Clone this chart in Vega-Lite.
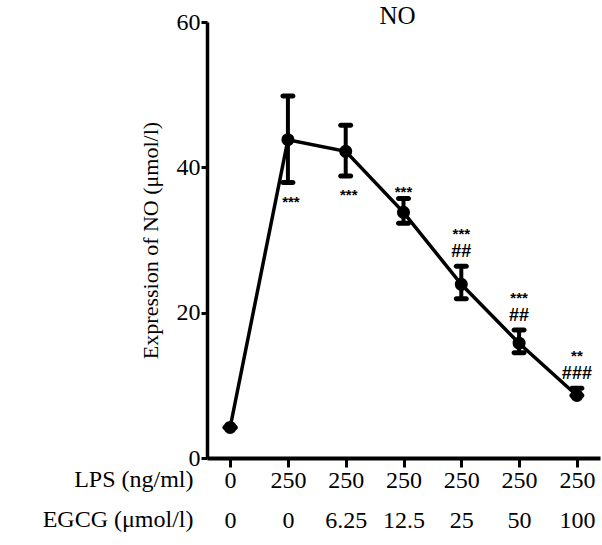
{
  "$schema": "https://vega.github.io/schema/vega-lite/v6.json",
  "autosize": "none",
  "width": 393,
  "height": 436,
  "padding": {"left": 207, "top": 22, "right": 2, "bottom": 87},
  "background": "white",
  "config": {
    "view": {"stroke": null},
    "font": "Liberation Serif"
  },
  "title": {
    "text": "NO",
    "font": "Liberation Serif",
    "fontSize": 25,
    "fontWeight": "normal",
    "color": "black",
    "anchor": "middle",
    "offset": -19,
    "dx": -6
  },
  "data": {
    "values": [
      {"grp": "0|0", "mean": 4.2, "lo": 4.2, "hi": 4.2, "stars": "", "hash": "", "below": ""},
      {"grp": "250|0", "mean": 43.8, "lo": 37.9, "hi": 49.8, "stars": "", "hash": "", "below": "***"},
      {"grp": "250|6.25", "mean": 42.2, "lo": 38.8, "hi": 45.8, "stars": "", "hash": "", "below": "***"},
      {"grp": "250|12.5", "mean": 33.8, "lo": 32.3, "hi": 35.7, "stars": "***", "hash": "", "below": ""},
      {"grp": "250|25", "mean": 23.9, "lo": 21.9, "hi": 26.4, "stars": "***", "hash": "##", "below": ""},
      {"grp": "250|50", "mean": 15.8, "lo": 14.5, "hi": 17.6, "stars": "***", "hash": "##", "below": ""},
      {"grp": "250|100", "mean": 8.6, "lo": 8.6, "hi": 9.6, "stars": "**", "hash": "###", "below": ""}
    ]
  },
  "encoding": {
    "x": {
      "field": "grp",
      "type": "ordinal",
      "sort": null,
      "scale": {"type": "point", "padding": 0.4},
      "axis": {
        "title": ["LPS (ng/ml)", "EGCG (μmol/l)"],
        "titleFont": "Liberation Serif",
        "titleFontSize": 24,
        "titleFontWeight": "normal",
        "titleColor": "black",
        "titleAlign": "right",
        "titleAnchor": null,
        "titleAngle": 0,
        "titleBaseline": "top",
        "titleLineHeight": 40,
        "titleX": -14,
        "titleY": 9,
        "labelExpr": "split(datum.label, '|')",
        "labelFont": "Liberation Serif",
        "labelFontSize": 24,
        "labelColor": "black",
        "labelLineHeight": 40,
        "labelAngle": 0,
        "labelPadding": 1,
        "labelBaseline": "top",
        "domainColor": "black",
        "domainWidth": 4,
        "tickColor": "black",
        "tickWidth": 3,
        "tickSize": 9,
        "grid": false
      }
    }
  },
  "layer": [
    {
      "mark": {"type": "line", "color": "black", "strokeWidth": 3.5},
      "encoding": {
        "y": {
          "field": "mean",
          "type": "quantitative",
          "scale": {"domain": [0, 60], "nice": false},
          "axis": {
            "title": "Expression of NO (μmol/l)",
            "titleFont": "Liberation Serif",
            "titleFontSize": 22,
            "titleFontWeight": "normal",
            "titleColor": "black",
            "titlePadding": 14,
            "values": [0, 20, 40, 60],
            "labelFont": "Liberation Serif",
            "labelFontSize": 24,
            "labelColor": "black",
            "labelPadding": 1,
            "domainColor": "black",
            "domainWidth": 3.5,
            "tickColor": "black",
            "tickWidth": 3,
            "tickSize": 6,
            "grid": false
          }
        }
      }
    },
    {
      "mark": {"type": "rule", "color": "black", "strokeWidth": 4},
      "encoding": {
        "y": {"field": "lo", "type": "quantitative"},
        "y2": {"field": "hi"}
      }
    },
    {
      "mark": {"type": "tick", "color": "black", "opacity": 1, "thickness": 5, "size": 15, "cornerRadius": 2.5},
      "encoding": {
        "y": {"field": "lo", "type": "quantitative"}
      }
    },
    {
      "mark": {"type": "tick", "color": "black", "opacity": 1, "thickness": 5, "size": 15, "cornerRadius": 2.5},
      "encoding": {
        "y": {"field": "hi", "type": "quantitative"}
      }
    },
    {
      "mark": {"type": "point", "filled": true, "color": "black", "opacity": 1, "size": 170},
      "encoding": {
        "y": {"field": "mean", "type": "quantitative"}
      }
    },
    {
      "transform": [{"filter": "datum.hash != ''"}],
      "mark": {"type": "text", "color": "black", "font": "Liberation Sans", "fontSize": 18, "fontWeight": "bold", "baseline": "bottom", "dy": -5},
      "encoding": {
        "y": {"field": "hi", "type": "quantitative"},
        "text": {"field": "hash"}
      }
    },
    {
      "transform": [{"filter": "datum.hash != ''"}],
      "mark": {"type": "text", "color": "black", "font": "Liberation Sans", "fontSize": 15, "fontWeight": "bold", "baseline": "bottom", "dy": -24},
      "encoding": {
        "y": {"field": "hi", "type": "quantitative"},
        "text": {"field": "stars"}
      }
    },
    {
      "transform": [{"filter": "datum.hash == '' && datum.stars != ''"}],
      "mark": {"type": "text", "color": "black", "font": "Liberation Sans", "fontSize": 15, "fontWeight": "bold", "baseline": "bottom", "dy": 1},
      "encoding": {
        "y": {"field": "hi", "type": "quantitative"},
        "text": {"field": "stars"}
      }
    },
    {
      "transform": [{"filter": "datum.below != ''"}],
      "mark": {"type": "text", "color": "black", "font": "Liberation Sans", "fontSize": 15, "fontWeight": "bold", "baseline": "top", "dy": 12, "dx": 3},
      "encoding": {
        "y": {"field": "lo", "type": "quantitative"},
        "text": {"field": "below"}
      }
    }
  ]
}
